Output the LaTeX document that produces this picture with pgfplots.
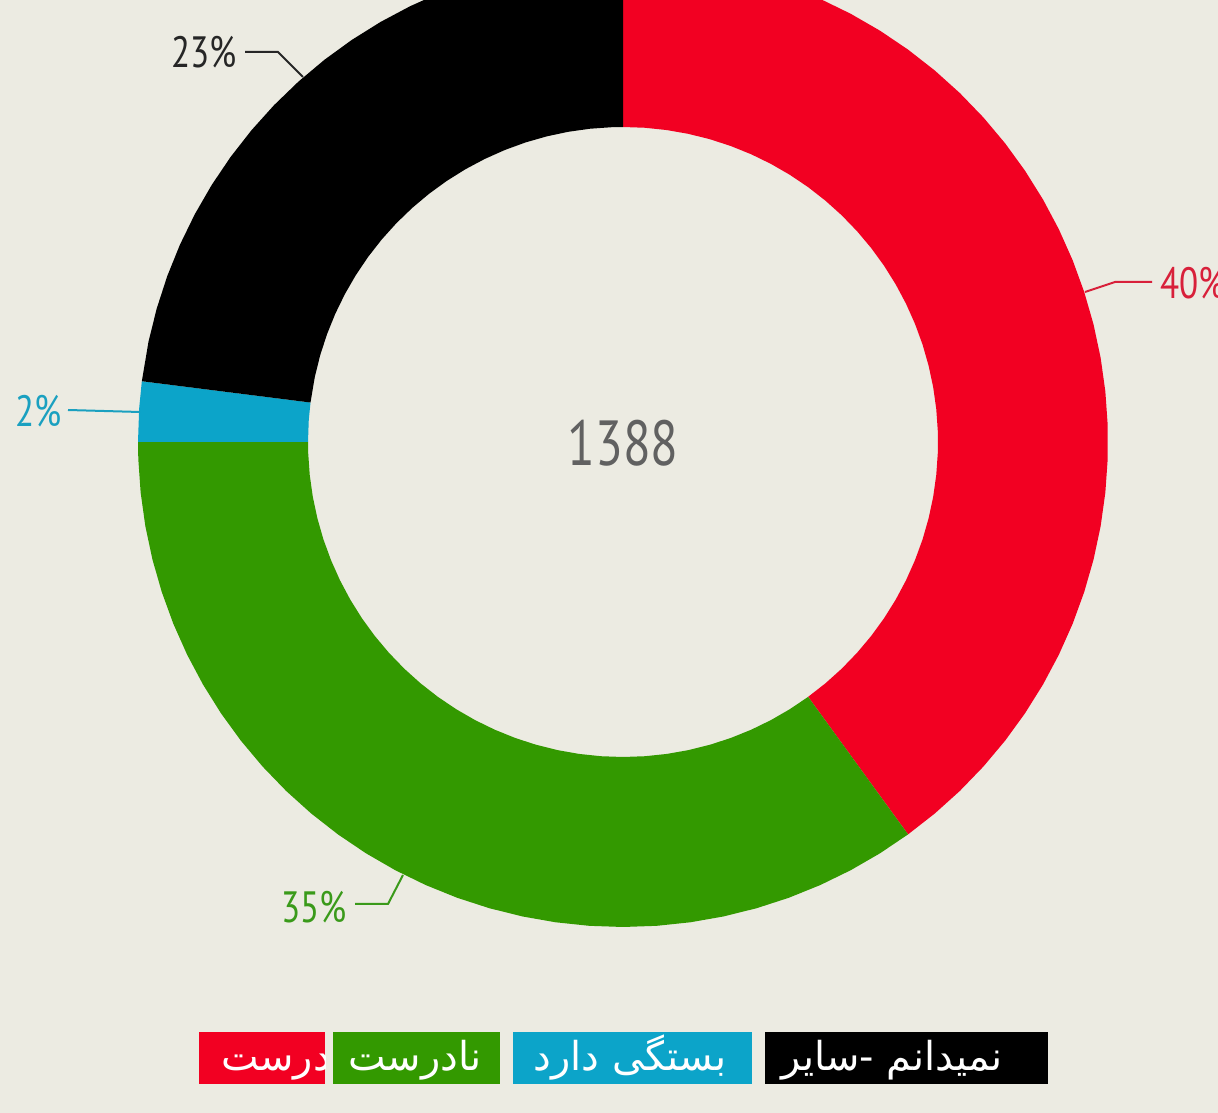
\documentclass[border=0pt]{standalone}
\usepackage{pgfplots}
\pgfplotsset{compat=1.18}
\usepgfplotslibrary{polar}
\usepackage{fontspec}
\setmainfont{PT Sans}
\newfontfamily\numfont[FakeStretch=0.8]{PT Sans}
\newfontfamily\arabicfont[Script=Arabic]{DejaVu Sans}
\TeXXeTstate=1
\definecolor{bg}{HTML}{ECEBE2}
\definecolor{cred}{HTML}{F20022}
\definecolor{cgreen}{HTML}{339900}
\definecolor{cblue}{HTML}{0CA4C9}
\definecolor{cblack}{HTML}{000000}
\definecolor{lred}{HTML}{D8203A}
\definecolor{lgreen}{HTML}{3A9A1A}
\definecolor{lblue}{HTML}{1AA0C0}
\begin{document}
\begin{tikzpicture}
\fill[bg] (0,0) rectangle (1218bp,1113bp);
\begin{axis}[x=1bp,y=1bp,xmin=-623,xmax=595,ymin=-671,ymax=442,
  hide axis,scale only axis,clip=true,anchor=south west,at={(0,0)}]
% red 40%
\addplot[fill=cred,draw=none,data cs=polar] coordinates {
(90,485)(86,485)(82,485)(78,485)(74,485)(70,485)(66,485)(62,485)(58,485)(54,485)(50,485)(46,485)(42,485)(38,485)(34,485)(30,485)(26,485)(22,485)(18,485)(14,485)(10,485)(6,485)(2,485)(-2,485)(-6,485)(-10,485)(-14,485)(-18,485)(-22,485)(-26,485)(-30,485)(-34,485)(-38,485)(-42,485)(-46,485)(-50,485)(-54,485)
(-54,315)(-50,315)(-46,315)(-42,315)(-38,315)(-34,315)(-30,315)(-26,315)(-22,315)(-18,315)(-14,315)(-10,315)(-6,315)(-2,315)(2,315)(6,315)(10,315)(14,315)(18,315)(22,315)(26,315)(30,315)(34,315)(38,315)(42,315)(46,315)(50,315)(54,315)(58,315)(62,315)(66,315)(70,315)(74,315)(78,315)(82,315)(86,315)(90,315)};
% green 35%
\addplot[fill=cgreen,draw=none,data cs=polar] coordinates {
(-54,485)(-58,485)(-62,485)(-66,485)(-70,485)(-74,485)(-78,485)(-82,485)(-86,485)(-90,485)(-94,485)(-98,485)(-102,485)(-106,485)(-110,485)(-114,485)(-118,485)(-122,485)(-126,485)(-130,485)(-134,485)(-138,485)(-142,485)(-146,485)(-150,485)(-154,485)(-158,485)(-162,485)(-166,485)(-170,485)(-174,485)(-178,485)(-180,485)
(-180,315)(-178,315)(-174,315)(-170,315)(-166,315)(-162,315)(-158,315)(-154,315)(-150,315)(-146,315)(-142,315)(-138,315)(-134,315)(-130,315)(-126,315)(-122,315)(-118,315)(-114,315)(-110,315)(-106,315)(-102,315)(-98,315)(-94,315)(-90,315)(-86,315)(-82,315)(-78,315)(-74,315)(-70,315)(-66,315)(-62,315)(-58,315)(-54,315)};
% blue 2%
\addplot[fill=cblue,draw=none,data cs=polar] coordinates {
(180,485)(176,485)(172.8,485)(172.8,315)(176,315)(180,315)};
% black 23%
\addplot[fill=cblack,draw=none,data cs=polar] coordinates {
(172.8,485)(168,485)(164,485)(160,485)(156,485)(152,485)(148,485)(144,485)(140,485)(136,485)(132,485)(128,485)(124,485)(120,485)(116,485)(112,485)(108,485)(104,485)(100,485)(96,485)(92,485)(90,485)
(90,315)(92,315)(96,315)(100,315)(104,315)(108,315)(112,315)(116,315)(120,315)(124,315)(128,315)(132,315)(136,315)(140,315)(144,315)(148,315)(152,315)(156,315)(160,315)(164,315)(168,315)(172.8,315)};
% leader lines
\draw[lred,line width=2bp] (axis cs:462,150) -- (axis cs:492,160) -- (axis cs:529,160);
\draw[black!85,line width=2bp] (axis cs:-378,390) -- (axis cs:-345,390) -- (axis cs:-320,365);
\draw[lblue,line width=2bp] (axis cs:-555,32) -- (axis cs:-483,30);
\draw[lgreen,line width=2bp] (axis cs:-268,-462) -- (axis cs:-235,-462) -- (axis cs:-220,-433);
\end{axis}
\begin{scope}[shift={(623bp,-442bp)},x=1bp,y=1bp,shift={(0,1113bp)}]
\node[anchor=west,text=lred,font=\numfont\fontsize{44}{44}\selectfont,inner sep=0] at (537,159) {40\%};
\node[anchor=east,text=black!85,font=\numfont\fontsize{44}{44}\selectfont,inner sep=0] at (-386,390) {23\%};
\node[anchor=east,text=lblue,font=\numfont\fontsize{44}{44}\selectfont,inner sep=0] at (-561,31) {2\%};
\node[anchor=east,text=lgreen,font=\numfont\fontsize{44}{44}\selectfont,inner sep=0] at (-276,-465) {35\%};
\node[text=black!62,font=\numfont\fontsize{64}{64}\selectfont,inner sep=0] at (0,-1) {1388};
\fill[cred] (-424,-642) rectangle (-298,-590);
\fill[cgreen] (-290,-642) rectangle (-123,-590);
\fill[cblue] (-110,-642) rectangle (129,-590);
\fill[cblack] (142,-642) rectangle (425,-590);
\begin{scope}
\clip (-424,-642) rectangle (-298,-590);
\node[anchor=base east,text=white,font=\arabicfont\fontsize{40}{40}\selectfont,inner sep=0] at (-292,-629) {\beginR درست\endR};
\end{scope}
\node[anchor=base,text=white,font=\arabicfont\fontsize{40}{40}\selectfont,inner sep=0] at (-208,-629) {\beginR نادرست\endR};
\node[anchor=base,text=white,font=\arabicfont\fontsize{40}{40}\selectfont,inner sep=0] at (7,-629) {\beginR بستگی دارد\endR};
\node[anchor=base,text=white,font=\arabicfont\fontsize{40}{40}\selectfont,inner sep=0] at (269,-629) {\beginR نمیدانم -سایر\endR};
\end{scope}
\pgfresetboundingbox
\useasboundingbox (0,0) rectangle (1218bp,1113bp);
\end{tikzpicture}
\end{document}
